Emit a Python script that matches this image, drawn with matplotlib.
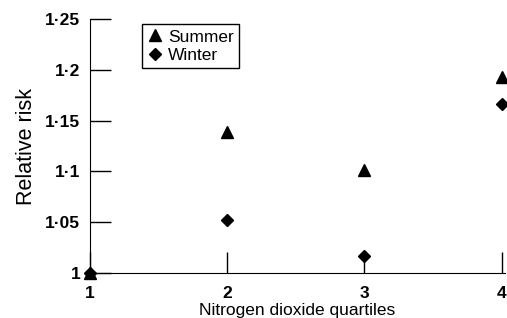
import matplotlib.pyplot as plt

quartiles = [1, 2, 3, 4]
summer = [1.0, 1.139, 1.101, 1.193]
winter = [1.0, 1.052, 1.017, 1.166]
yticks = [1.0, 1.05, 1.1, 1.15, 1.2, 1.25]
ytick_labels = ["1", "1·05", "1·1", "1·15", "1·2", "1·25"]

plt.rcParams['font.family'] = ['Liberation Sans', 'DejaVu Sans']

fig = plt.figure(figsize=(5.07, 3.18), dpi=100)
ax = fig.add_axes([0.1775, 0.1415, 0.818, 0.7985])

ax.plot(quartiles, summer, linestyle='none', marker='^', markersize=8.5,
        color='black', label='Summer', clip_on=False)
ax.plot(quartiles, winter, linestyle='none', marker='D', markersize=6.5,
        color='black', label='Winter', clip_on=False)

ax.set_xlim(1, 4.022)
ax.set_ylim(1, 1.25)
ax.set_xticks(quartiles)
ax.set_yticks(yticks)
ax.set_yticklabels(ytick_labels)
for lab in ax.get_xticklabels() + ax.get_yticklabels():
    lab.set_fontweight('bold')
    lab.set_fontsize(12.5)

ax.spines['top'].set_visible(False)
ax.spines['right'].set_visible(False)
ax.tick_params(direction='in', length=15, width=1)
ax.tick_params(axis='y', pad=7)
ax.tick_params(axis='x', pad=9)

ax.set_xlabel("Nitrogen dioxide quartiles", fontsize=12.5, labelpad=2)
ax.set_ylabel("Relative risk", fontsize=15.5, labelpad=6)

leg = ax.legend(loc='upper left', bbox_to_anchor=(0.125, 0.98), borderaxespad=0,
                fancybox=False, edgecolor='black', framealpha=1, fontsize=12.5,
                handletextpad=0.3, borderpad=0.3, labelspacing=0.2,
                handlelength=0.9)
leg.get_frame().set_linewidth(1)

fig.savefig("out.png", dpi=100)
